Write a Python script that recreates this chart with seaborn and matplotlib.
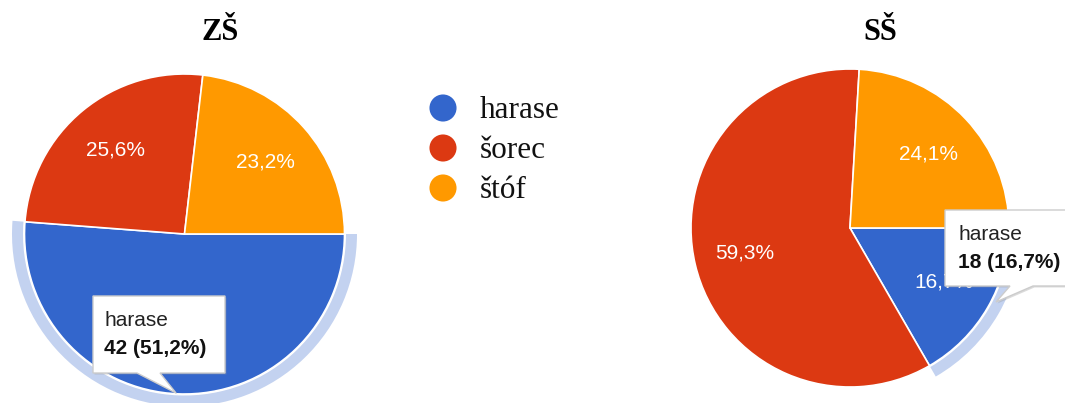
import matplotlib
matplotlib.use("Agg")
import matplotlib.pyplot as plt
from matplotlib.patches import Wedge, Polygon
import seaborn as sns

# data
categories = ["harase", "šorec", "štóf"]
zs_counts = [42, 21, 19]
ss_counts = [18, 64, 26]
school_titles = ["ZŠ", "SŠ"]
colors = ["#3366cc", "#dc3912", "#ff9900"]

sns.set_theme(style="white")
palette = sns.color_palette(colors)

W, H = 1065, 403
fig = plt.figure(figsize=(W / 100, H / 100), dpi=100)
ax = fig.add_axes([0, 0, 1, 1])

SANS = ["Liberation Sans", "DejaVu Sans"]
SERIF = ["Liberation Serif", "DejaVu Serif"]


def pct_fmt(p):
    return f"{p:.1f}%".replace(".", ",")


def draw_pie(counts, cx, cy, r):
    wedges, texts, autotexts = ax.pie(
        counts, colors=palette, startangle=0, counterclock=False,
        center=(cx, H - cy), radius=r, autopct=pct_fmt, pctdistance=0.68,
        wedgeprops=dict(edgecolor="white", linewidth=1.2),
        textprops=dict(color="white", fontsize=15, family=SANS))
    # highlight ring around the selected slice (harase)
    w = wedges[0]
    ring = Wedge((cx, H - cy), r + 12.5, w.theta1, w.theta2, width=11,
                 facecolor="#c3d2f0", edgecolor="none", zorder=0)
    ax.add_patch(ring)
    return autotexts


def draw_tooltip(pts, name, count, total, tx, ty):
    pts = [(x, H - y) for x, y in pts]
    shadow = Polygon([(x + 1.5, y - 1.5) for x, y in pts], closed=True,
                     facecolor="#999999", edgecolor="none", alpha=0.35, zorder=5)
    box = Polygon(pts, closed=True, facecolor="white", edgecolor="#cccccc",
                  linewidth=1, zorder=6)
    ax.add_patch(shadow)
    ax.add_patch(box)
    ax.text(tx, H - ty, name, fontsize=15, family=SANS, color="#222222",
            va="center", ha="left", zorder=7)
    ax.text(tx, H - ty - 28, f"{count} ({pct_fmt(count / total * 100)})",
            fontsize=15, family=SANS, fontweight="bold", color="#111111",
            va="center", ha="left", zorder=7)


zs_labels = draw_pie(zs_counts, 184.5, 234, 160)
draw_pie(ss_counts, 850, 228, 159)
# the harase label of the left pie sits fully under its tooltip
zs_labels[0].set_visible(False)

ax.text(220, H - 33, school_titles[0], ha="center", va="center",
        fontsize=22, fontweight="bold", family=SERIF, color="black")
ax.text(880, H - 33, school_titles[1], ha="center", va="center",
        fontsize=22, fontweight="bold", family=SERIF, color="black")

# legend in the middle
for i, (cat, col) in enumerate(zip(categories, palette)):
    cy = 108 + i * 40
    ax.scatter([443], [H - cy], s=19.5 ** 2, color=col, edgecolor="none", zorder=3)
    ax.text(480, H - cy - 10, cat, ha="left", va="baseline",
            fontsize=22.5, family=SERIF, color="#111111")

# tooltips
draw_tooltip([(93, 296), (225, 296), (225, 373), (160, 373), (176, 393),
              (137, 373), (93, 373)],
             categories[0], zs_counts[0], sum(zs_counts), 104, 320)
draw_tooltip([(945, 210), (1075, 210), (1075, 286), (1033, 286), (996, 302),
              (1010, 286), (945, 286)],
             categories[0], ss_counts[0], sum(ss_counts), 958, 234)

ax.set_xlim(0, W)
ax.set_ylim(0, H)
ax.set_aspect("auto")
ax.axis("off")

fig.savefig("out.png", dpi=100, facecolor="white")
